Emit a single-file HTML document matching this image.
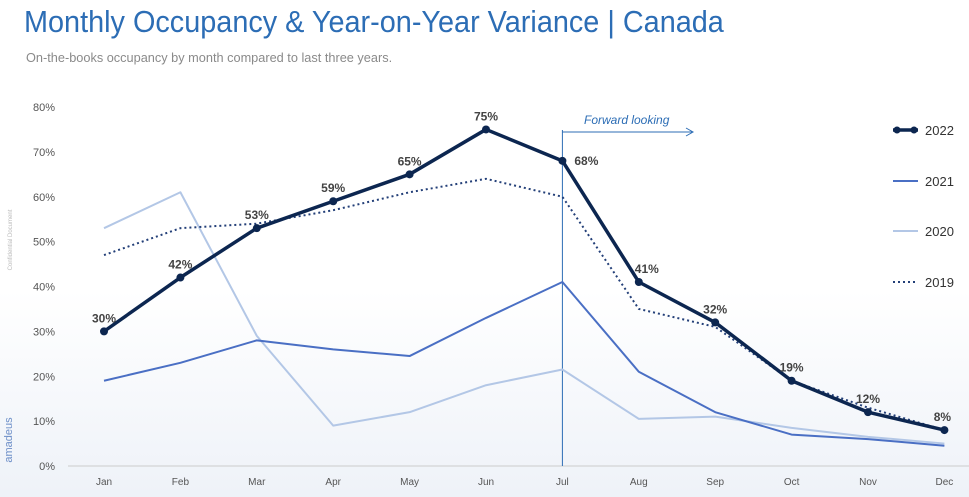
<!DOCTYPE html>
<html><head><meta charset="utf-8"><style>
body{margin:0;width:969px;height:497px;overflow:hidden;background:#fff;font-family:"Liberation Sans",sans-serif}
#t{position:absolute;left:24px;top:4px;font-size:31px;color:#2c6db5;font-weight:normal;margin:0;transform:scaleX(0.93);transform-origin:0 0;white-space:nowrap}
#s{position:absolute;left:26px;top:50px;font-size:13px;color:#8a8a8a;transform:scaleX(0.98);transform-origin:0 0;white-space:nowrap}
svg{position:absolute;left:0;top:0}
</style></head><body>
<div id="t">Monthly Occupancy &amp; Year-on-Year Variance | Canada</div>
<div id="s">On-the-books occupancy by month compared to last three years.</div>
<svg id="c" width="969" height="497">
<defs><linearGradient id="bg" x1="0" y1="0" x2="0" y2="1"><stop offset="0" stop-color="#fff"/><stop offset="1" stop-color="#eef2f8"/></linearGradient></defs>
<rect x="0" y="290" width="969" height="207" fill="url(#bg)"/>
<text x="12" y="240" font-size="6" fill="#bbb" transform="rotate(-90 12 240)" text-anchor="middle">Confidential Document</text>
<text x="12" y="440" font-size="11" fill="#6d8fc8" transform="rotate(-90 12 440)" text-anchor="middle">amadeus</text>
</svg>
<script>
const months=["Jan","Feb","Mar","Apr","May","Jun","Jul","Aug","Sep","Oct","Nov","Dec"];
const yTicks=[0,10,20,30,40,50,60,70,80];
const s2022=[30,42,53,59,65,75,68,41,32,19,12,8];
const s2021=[19,23,28,26,24.5,33,41,21,12,7,6,4.5];
const s2020=[53,61,29,9,12,18,21.5,10.5,11,8.5,6.5,5];
const s2019=[47,53,54,57,61,64,60,35,31,19,13,8];
const labels2022=["30%","42%","53%","59%","65%","75%","68%","41%","32%","19%","12%","8%"];
const svg=document.getElementById('c');const NS="http://www.w3.org/2000/svg";
const x=i=>104+i*76.4;const y=v=>466-v*4.4875;
function el(t,a,p){const e=document.createElementNS(NS,t);for(const k in a)e.setAttribute(k,a[k]);(p||svg).appendChild(e);return e;}
let ax=el('line',{x1:68,x2:969,y1:466,y2:466,stroke:'#ccc'});


yTicks.forEach(v=>{const t=el('text',{x:55,y:y(v)+4,'font-size':11,fill:'#555','text-anchor':'end'});t.textContent=v+'%';

});
months.forEach((m,i)=>{const t=el('text',{x:x(i),y:485,'font-size':10,fill:'#555','text-anchor':'middle'});t.textContent=m;

});
let fl=el('line',{x1:x(6),x2:x(6),y1:130,y2:466,stroke:'#2c6db5','stroke-width':1});


let fa=el('path',{d:`M${x(6)} 132 H692 M686 128 L693 132 L686 136`,stroke:'#2c6db5',fill:'none'});


let ft=el('text',{x:584,y:124,'font-size':12,'font-style':'italic',fill:'#2c6db5'});ft.textContent='Forward looking';


function line(d,st,w,dash,name){const p=el('polyline',{points:d.map((v,i)=>x(i)+','+y(v)).join(' '),fill:'none',stroke:st,'stroke-width':w,'stroke-dasharray':dash||'none','stroke-linejoin':'round'});

}
line(s2020,'#b3c7e6',2,null,'line-2020');
line(s2021,'#4a6fc4',2,null,'line-2021');
line(s2019,'#233f78',2,'2,3','line-2019');
line(s2022,'#0c2650',3.5,null,'line-2022');
s2022.forEach((v,i)=>{const c=el('circle',{cx:x(i),cy:y(v),r:4,fill:'#0c2650'});


const dx=i==6?24:i==7?8:i==11?-2:0;
const t=el('text',{x:x(i)+dx,y:y(v)-(i==6?-4:9),'font-size':12,'font-weight':'bold',fill:'#444','text-anchor':'middle'});t.textContent=labels2022[i];

});
const leg=[["2022",'#0c2650',3.5,null,130,true],["2021",'#4a6fc4',2,null,181],["2020",'#b3c7e6',2,null,231],["2019",'#233f78',2,'2,3',282]];
leg.forEach(l=>{const g=el('g',{});


el('line',{x1:893,x2:918,y1:l[4],y2:l[4],stroke:l[1],'stroke-width':l[2],'stroke-dasharray':l[3]||'none'},g);
if(l[5]){el('circle',{cx:897,cy:l[4],r:3.5,fill:l[1]},g);el('circle',{cx:914,cy:l[4],r:3.5,fill:l[1]},g);}
const t=el('text',{x:925,y:l[4]+5,'font-size':13,fill:'#333'},g);t.textContent=l[0];});
</script>
</body></html>
